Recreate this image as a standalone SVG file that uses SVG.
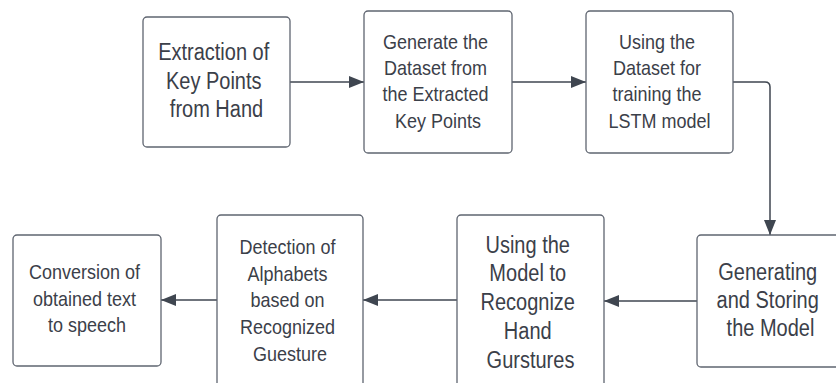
<svg xmlns="http://www.w3.org/2000/svg" width="836" height="383" viewBox="0 0 836 383">
  <style>
    .box { fill: #ffffff; stroke: #5f6570; stroke-width: 1.3; }
    .lbl { font-family: "Liberation Sans", Arial, sans-serif; fill: #3b4049; text-anchor: middle; dominant-baseline: central; }
    .f20 { font-size: 20px; }
    .f18 { font-size: 18px; }
    .wire { fill: none; stroke: #3f4650; stroke-width: 1.5; marker-end: url(#head); }
  </style>
  <defs>
    <marker id="head" markerUnits="userSpaceOnUse" markerWidth="15" markerHeight="12" refX="15" refY="6" orient="auto">
      <path d="M0,0 L15,6 L0,12 Z" fill="#3f4650"/>
    </marker>
  </defs>
  <rect width="836" height="383" fill="#ffffff"/>

  <g id="connectors">
    <path class="wire" d="M290,82 H364"/>
    <path class="wire" d="M512,82 H586"/>
    <path class="wire" d="M733,82 H765 Q770,82 770,87 V235"/>
    <path class="wire" d="M697,301 H604"/>
    <path class="wire" d="M457,300 H363"/>
    <path class="wire" d="M217,300 H161"/>
  </g>

  <g id="extract">
    <rect class="box" x="143" y="17" width="147" height="130" rx="4"/>
    <text class="lbl f20" transform="translate(216.5,80) scale(1,1.15)">
      <tspan x="0" y="-24.6">Extraction of</tspan>
      <tspan x="0" y="0">Key Points</tspan>
      <tspan x="0" y="24.6">from Hand</tspan>
    </text>
  </g>

  <g id="dataset">
    <rect class="box" x="364" y="11" width="148" height="142" rx="4"/>
    <text class="lbl f18" transform="translate(438,81) scale(1,1.15)">
      <tspan x="0" y="-34">Generate the</tspan>
      <tspan x="0" y="-11.3">Dataset from</tspan>
      <tspan x="0" y="11.3">the Extracted</tspan>
      <tspan x="0" y="34">Key Points</tspan>
    </text>
  </g>

  <g id="training">
    <rect class="box" x="586" y="11" width="147" height="142" rx="4"/>
    <text class="lbl f18" transform="translate(659.5,81) scale(1,1.15)">
      <tspan x="0" y="-34">Using the</tspan>
      <tspan x="0" y="-11.3">Dataset for</tspan>
      <tspan x="0" y="11.3">training the</tspan>
      <tspan x="0" y="34">LSTM model</tspan>
    </text>
  </g>

  <g id="storing">
    <rect class="box" x="697" y="235" width="147" height="132" rx="4"/>
    <text class="lbl f20" transform="translate(770.5,299.5) scale(1,1.15)">
      <tspan x="0" y="-24">Generating</tspan>
      <tspan x="0" y="0">and Storing</tspan>
      <tspan x="0" y="24">the Model</tspan>
    </text>
  </g>

  <g id="recognize">
    <rect class="box" x="457" y="215" width="147" height="173" rx="4"/>
    <text class="lbl f20" transform="translate(530.5,301.5) scale(1,1.15)">
      <tspan x="0" y="-50">Using the</tspan>
      <tspan x="0" y="-25">Model to</tspan>
      <tspan x="0" y="0">Recognize</tspan>
      <tspan x="0" y="25">Hand</tspan>
      <tspan x="0" y="50">Gurstures</tspan>
    </text>
  </g>

  <g id="detection">
    <rect class="box" x="217" y="215" width="146" height="173" rx="4"/>
    <text class="lbl f18" transform="translate(290,299.8) scale(1,1.15)">
      <tspan x="0" y="-46.4">Detection of</tspan>
      <tspan x="0" y="-23.2">Alphabets</tspan>
      <tspan x="0" y="0">based on</tspan>
      <tspan x="0" y="23.2">Recognized</tspan>
      <tspan x="0" y="46.4">Guesture</tspan>
    </text>
  </g>

  <g id="speech">
    <rect class="box" x="13" y="235" width="148" height="131" rx="4"/>
    <text class="lbl f18" transform="translate(87,298.3) scale(1,1.15)">
      <tspan x="0" y="-23.2">Conversion of</tspan>
      <tspan x="0" y="0">obtained text</tspan>
      <tspan x="0" y="23.2">to speech</tspan>
    </text>
  </g>
</svg>
